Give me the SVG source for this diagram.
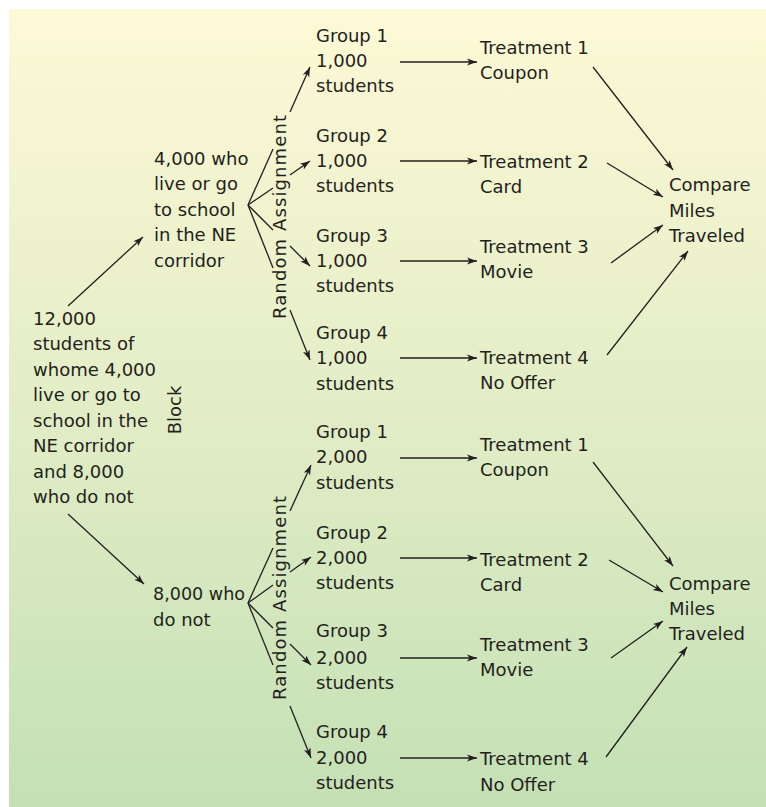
<svg xmlns="http://www.w3.org/2000/svg" width="766" height="807" viewBox="0 0 766 807">
<defs>
<linearGradient id="bg" x1="0" y1="0" x2="0" y2="1">
<stop offset="0" stop-color="#FEF9D6"/>
<stop offset="0.5" stop-color="#E2EDC6"/>
<stop offset="1" stop-color="#C4E0B4"/>
</linearGradient>
<marker id="ah" viewBox="0 0 10 8" refX="10" refY="4" markerWidth="11" markerHeight="8" markerUnits="userSpaceOnUse" orient="auto">
<path d="M0,0.5 L10,4 L0,7.5 L2.5,4 z" fill="#231f20"/>
</marker>
<style>
text{font-family:"DejaVu Sans","Liberation Sans",sans-serif;font-size:18px;fill:#231f20}
.c line{stroke:#231f20;stroke-width:1.3;fill:none}
.c line.a{marker-end:url(#ah)}
</style>
</defs>
<rect x="9" y="9" width="757" height="798" fill="url(#bg)"/>

<g id="population"><text x="33"><tspan x="33" y="325">12,000</tspan><tspan x="33" y="350">students of</tspan><tspan x="33" y="376">whome 4,000</tspan><tspan x="33" y="401">live or go to</tspan><tspan x="33" y="427">school in the</tspan><tspan x="33" y="452">NE corridor</tspan><tspan x="33" y="478">and 8,000</tspan><tspan x="33" y="503">who do not</tspan></text></g>
<g id="block-label"><text transform="translate(181,410) rotate(-90)" text-anchor="middle">Block</text></g>

<g id="ne"><text><tspan x="154" y="165">4,000 who</tspan><tspan x="154" y="190">live or go</tspan><tspan x="154" y="216">to school</tspan><tspan x="154" y="241">in the NE</tspan><tspan x="154" y="267">corridor</tspan></text></g>
<g id="notne"><text><tspan x="153" y="600" textLength="92" lengthAdjust="spacingAndGlyphs">8,000 who</tspan><tspan x="153" y="626">do not</tspan></text></g>

<g id="ra-top"><text transform="translate(286,217) rotate(-90)" text-anchor="middle" textLength="204" lengthAdjust="spacing">Random Assignment</text></g>
<g id="ra-bottom"><text transform="translate(286,598) rotate(-90)" text-anchor="middle" textLength="204" lengthAdjust="spacing">Random Assignment</text></g>

<g id="t-g1"><text><tspan x="316" y="42">Group 1</tspan><tspan x="316" y="67">1,000</tspan><tspan x="316" y="92">students</tspan></text></g>
<g id="t-g2"><text><tspan x="316" y="142">Group 2</tspan><tspan x="316" y="167">1,000</tspan><tspan x="316" y="192">students</tspan></text></g>
<g id="t-g3"><text><tspan x="316" y="242">Group 3</tspan><tspan x="316" y="267">1,000</tspan><tspan x="316" y="292">students</tspan></text></g>
<g id="t-g4"><text><tspan x="316" y="339">Group 4</tspan><tspan x="316" y="364">1,000</tspan><tspan x="316" y="390">students</tspan></text></g>

<g id="b-g1"><text><tspan x="316" y="438">Group 1</tspan><tspan x="316" y="463">2,000</tspan><tspan x="316" y="489">students</tspan></text></g>
<g id="b-g2"><text><tspan x="316" y="539">Group 2</tspan><tspan x="316" y="564">2,000</tspan><tspan x="316" y="589">students</tspan></text></g>
<g id="b-g3"><text><tspan x="316" y="637">Group 3</tspan><tspan x="316" y="664">2,000</tspan><tspan x="316" y="689">students</tspan></text></g>
<g id="b-g4"><text><tspan x="316" y="738">Group 4</tspan><tspan x="316" y="764">2,000</tspan><tspan x="316" y="789">students</tspan></text></g>

<g id="t-t1"><text><tspan x="480" y="54">Treatment 1</tspan><tspan x="480" y="79">Coupon</tspan></text></g>
<g id="t-t2"><text><tspan x="480" y="168">Treatment 2</tspan><tspan x="480" y="193">Card</tspan></text></g>
<g id="t-t3"><text><tspan x="480" y="253">Treatment 3</tspan><tspan x="480" y="278">Movie</tspan></text></g>
<g id="t-t4"><text><tspan x="480" y="364">Treatment 4</tspan><tspan x="480" y="389">No Offer</tspan></text></g>

<g id="b-t1"><text><tspan x="480" y="451">Treatment 1</tspan><tspan x="480" y="476">Coupon</tspan></text></g>
<g id="b-t2"><text><tspan x="480" y="566">Treatment 2</tspan><tspan x="480" y="591">Card</tspan></text></g>
<g id="b-t3"><text><tspan x="480" y="651">Treatment 3</tspan><tspan x="480" y="676">Movie</tspan></text></g>
<g id="b-t4"><text><tspan x="480" y="765">Treatment 4</tspan><tspan x="480" y="791">No Offer</tspan></text></g>

<g id="t-compare"><text><tspan x="669" y="191">Compare</tspan><tspan x="669" y="217">Miles</tspan><tspan x="669" y="242">Traveled</tspan></text></g>
<g id="b-compare"><text><tspan x="669" y="590">Compare</tspan><tspan x="669" y="615">Miles</tspan><tspan x="669" y="640">Traveled</tspan></text></g>

<g id="connectors" class="c">
<line class="a" x1="68" y1="306" x2="143" y2="237"/>
<line class="a" x1="68" y1="514" x2="144" y2="584"/>

<line x1="248" y1="205" x2="273" y2="149"/>
<line class="a" x1="290" y1="112" x2="310" y2="67"/>
<line x1="248" y1="205" x2="273" y2="188"/>
<line class="a" x1="290" y1="175" x2="310" y2="161"/>
<line x1="248" y1="205" x2="273" y2="230"/>
<line class="a" x1="290" y1="246" x2="310" y2="266"/>
<line x1="248" y1="205" x2="273" y2="268"/>
<line class="a" x1="290" y1="310" x2="310" y2="360"/>

<line x1="248" y1="603" x2="273" y2="548"/>
<line class="a" x1="290" y1="511" x2="311" y2="465"/>
<line x1="248" y1="603" x2="273" y2="585"/>
<line class="a" x1="290" y1="572" x2="311" y2="557"/>
<line x1="248" y1="603" x2="273" y2="628"/>
<line class="a" x1="290" y1="644" x2="311" y2="665"/>
<line x1="248" y1="603" x2="273" y2="665"/>
<line class="a" x1="290" y1="706" x2="311" y2="758"/>

<line class="a" x1="400" y1="62" x2="477" y2="62"/>
<line class="a" x1="400" y1="161" x2="477" y2="161"/>
<line class="a" x1="400" y1="261" x2="477" y2="261"/>
<line class="a" x1="400" y1="358" x2="477" y2="358"/>
<line class="a" x1="400" y1="458" x2="477" y2="458"/>
<line class="a" x1="400" y1="558" x2="477" y2="558"/>
<line class="a" x1="400" y1="658" x2="477" y2="658"/>
<line class="a" x1="400" y1="758" x2="477" y2="758"/>

<line class="a" x1="593" y1="67" x2="673" y2="170"/>
<line class="a" x1="607" y1="163" x2="663" y2="197"/>
<line class="a" x1="611" y1="263" x2="663" y2="225"/>
<line class="a" x1="607" y1="355" x2="688" y2="251"/>

<line class="a" x1="593" y1="462" x2="673" y2="566"/>
<line class="a" x1="609" y1="560" x2="663" y2="592"/>
<line class="a" x1="611" y1="658" x2="663" y2="621"/>
<line class="a" x1="606" y1="757" x2="687" y2="647"/>
</g>
</svg>
